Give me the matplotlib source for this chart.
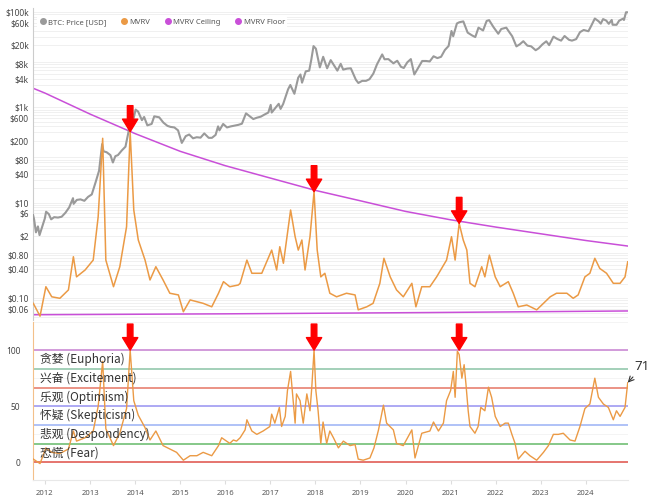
# MVRV curve: BTC price + MVRV (log scale) and MVRV score panel
import pandas as pd
import matplotlib
matplotlib.use('Agg')
from matplotlib import pyplot as plt
from matplotlib.lines import Line2D
from matplotlib.ticker import LogLocator, NullFormatter

plt.rcParams['font.family'] = ['Noto Sans', 'Noto Sans CJK SC', 'DejaVu Sans']

# --- BTC price (USD) ---
price_dates = [
    "2011-09-27", "2011-10-05", "2011-10-20", "2011-11-05", "2011-11-18", "2011-12-10", "2011-12-31",
    "2012-01-10", "2012-02-01", "2012-02-20", "2012-03-15", "2012-04-15", "2012-05-15", "2012-06-15",
    "2012-07-15", "2012-08-15", "2012-08-20", "2012-09-15", "2012-10-15", "2012-11-15", "2012-12-15",
    "2013-01-15", "2013-02-15", "2013-03-15", "2013-04-09", "2013-04-20", "2013-05-15", "2013-06-15",
    "2013-07-05", "2013-07-25", "2013-08-15", "2013-09-15", "2013-10-15", "2013-11-10", "2013-12-01",
    "2013-12-18", "2014-01-05", "2014-01-25", "2014-02-25", "2014-03-15", "2014-04-10", "2014-05-15",
    "2014-06-05", "2014-07-15", "2014-08-18", "2014-09-20", "2014-10-15", "2014-11-15", "2014-12-15",
    "2015-01-14", "2015-02-15", "2015-03-15", "2015-04-15", "2015-05-15", "2015-06-15", "2015-07-15",
    "2015-08-20", "2015-09-15", "2015-10-15", "2015-11-04", "2015-11-15", "2015-12-15", "2016-01-15",
    "2016-02-15", "2016-03-15", "2016-04-15", "2016-05-15", "2016-06-17", "2016-07-15", "2016-08-15",
    "2016-09-15", "2016-10-15", "2016-11-15", "2016-12-15", "2017-01-04", "2017-01-12", "2017-02-15",
    "2017-03-10", "2017-03-25", "2017-04-15", "2017-05-25", "2017-06-12", "2017-07-15", "2017-08-15",
    "2017-09-02", "2017-09-15", "2017-10-15", "2017-11-12", "2017-11-29", "2017-12-17", "2018-01-05",
    "2018-02-06", "2018-03-05", "2018-04-06", "2018-05-05", "2018-06-28", "2018-07-25", "2018-08-14",
    "2018-09-15", "2018-10-15", "2018-11-25", "2018-12-15", "2019-01-15", "2019-02-15", "2019-03-15",
    "2019-04-15", "2019-05-15", "2019-06-26", "2019-07-15", "2019-08-15", "2019-09-25", "2019-10-26",
    "2019-11-25", "2019-12-18", "2020-01-15", "2020-02-13", "2020-03-12", "2020-04-15", "2020-05-15",
    "2020-06-15", "2020-07-15", "2020-08-15", "2020-09-15", "2020-10-15", "2020-11-15", "2020-12-15",
    "2021-01-08", "2021-01-22", "2021-02-21", "2021-03-13", "2021-04-14", "2021-05-19", "2021-06-22",
    "2021-07-20", "2021-08-15", "2021-09-21", "2021-10-20", "2021-11-09", "2021-12-15", "2022-01-22",
    "2022-02-15", "2022-03-28", "2022-04-15", "2022-05-15", "2022-06-18", "2022-07-15", "2022-08-13",
    "2022-09-15", "2022-10-15", "2022-11-21", "2022-12-15", "2023-01-15", "2023-02-15", "2023-03-10",
    "2023-04-14", "2023-05-15", "2023-06-15", "2023-07-13", "2023-08-18", "2023-09-11", "2023-10-15",
    "2023-11-15", "2023-12-15", "2024-01-22", "2024-02-15", "2024-03-14", "2024-04-15", "2024-05-01",
    "2024-05-20", "2024-06-15", "2024-07-05", "2024-07-29", "2024-08-05", "2024-09-06", "2024-09-27",
    "2024-10-29", "2024-11-05", "2024-11-22", "2024-12-05",
]
price_usd = [
    5.5, 4.5, 2.4, 3.2, 2.1, 3.2, 4.7,
    6.5, 5.8, 4.5, 5.0, 4.9, 5.1, 6.2,
    8.0, 12.5, 9.5, 11.5, 11.8, 11.0, 13.3,
    15, 27, 47, 170, 120, 115, 100,
    70, 95, 100, 125, 150, 320, 1000,
    560, 900, 820, 540, 630, 420, 450,
    650, 620, 480, 410, 390, 380, 330,
    180, 250, 270, 225, 237, 232, 285,
    230, 230, 265, 400, 330, 450, 380,
    400, 415, 430, 455, 750, 660, 570,
    610, 640, 710, 780, 1130, 780, 1000,
    1190, 930, 1180, 2400, 2950, 1930, 4200,
    4900, 3300, 5700, 5900, 10000, 19300, 17000,
    6900, 11500, 6600, 9800, 5900, 8200, 6200,
    6500, 6600, 3800, 3250, 3600, 3600, 3900,
    5100, 8000, 12900, 10200, 10300, 8400, 9500,
    7100, 6700, 8800, 10300, 4900, 6900, 9400,
    9400, 9200, 11800, 10800, 11500, 16000, 19400,
    40000, 31000, 57500, 61000, 63500, 37000, 32500,
    29800, 47000, 41000, 65000, 67500, 48000, 35000,
    44000, 47000, 40000, 31000, 19000, 21000, 24400,
    19700, 19100, 15800, 17300, 21000, 24300, 20200,
    30400, 27200, 25100, 31400, 26100, 25100, 27000,
    37800, 42000, 39500, 52000, 73000, 63500, 57000,
    71000, 66000, 56500, 68200, 54000, 53900, 65800,
    72500, 68000, 98900, 98500,
]

# --- MVRV (drawn on the price axis) ---
mvrv_anos = [
    2011.74, 2011.89, 2012.02, 2012.15, 2012.33, 2012.52, 2012.63, 2012.70, 2012.89, 2013.07,
    2013.18, 2013.28, 2013.35, 2013.52, 2013.66, 2013.81, 2013.89, 2013.97, 2014.07, 2014.22,
    2014.33, 2014.46, 2014.62, 2014.77, 2014.96, 2015.07, 2015.22, 2015.51, 2015.70, 2015.85,
    2015.96, 2016.10, 2016.29, 2016.33, 2016.48, 2016.59, 2016.81, 2017.03, 2017.14, 2017.21,
    2017.29, 2017.45, 2017.55, 2017.62, 2017.70, 2017.77, 2017.88, 2017.97, 2018.04, 2018.12,
    2018.21, 2018.32, 2018.47, 2018.69, 2018.88, 2018.95, 2019.14, 2019.28, 2019.43, 2019.52,
    2019.66, 2019.80, 2019.95, 2020.14, 2020.23, 2020.36, 2020.54, 2020.69, 2020.91, 2021.02,
    2021.10, 2021.19, 2021.28, 2021.36, 2021.43, 2021.54, 2021.69, 2021.76, 2021.86, 2021.99,
    2022.10, 2022.28, 2022.39, 2022.50, 2022.69, 2022.91, 2023.06, 2023.21, 2023.35, 2023.58,
    2023.72, 2023.83, 2023.98, 2024.09, 2024.20, 2024.31, 2024.46, 2024.61, 2024.76, 2024.87,
    2024.93,
]
mvrv = [
    0.078, 0.042, 0.174, 0.107, 0.0995, 0.149, 0.74, 0.28, 0.39, 0.63,
    5.1, 225, 0.63, 0.174, 0.457, 3.15, 310, 7.06, 1.66, 0.63,
    0.241, 0.457, 0.241, 0.127, 0.117, 0.052, 0.092, 0.078, 0.066, 0.127,
    0.222, 0.174, 0.189, 0.205, 0.63, 0.333, 0.333, 1.02, 0.39, 1.20,
    0.54, 7.06, 1.95, 1.02, 1.66, 0.39, 1.95, 17.1, 1.02, 0.28,
    0.333, 0.127, 0.107, 0.127, 0.117, 0.057, 0.066, 0.078, 0.205, 0.686,
    0.28, 0.149, 0.107, 0.205, 0.066, 0.174, 0.174, 0.28, 0.63, 1.95,
    0.63, 3.7, 1.66, 1.02, 0.205, 0.174, 0.457, 0.28, 0.80, 0.28,
    0.174, 0.222, 0.127, 0.066, 0.072, 0.057, 0.078, 0.107, 0.127, 0.127,
    0.0995, 0.117, 0.28, 0.333, 0.686, 0.42, 0.333, 0.205, 0.205, 0.28,
    0.58,
]

# --- MVRV ceiling / floor ---
teto_anos = [2011.74, 2012.0, 2013.0, 2014.0, 2015.0, 2016.0, 2017.0, 2018.0,
             2019.0, 2020.0, 2021.0, 2022.0, 2023.0, 2024.0, 2024.93]
teto = [2512, 1995, 724, 282, 120, 60, 33, 18.2, 11, 6.6, 4.4, 3.1, 2.24, 1.62, 1.24]
piso_anos = [2011.74, 2016.0, 2020.5, 2024.93]
piso = [0.045, 0.047, 0.050, 0.054]

# --- MVRV score (0-100) ---
score_anos = [
    2011.74, 2011.89, 2012.02, 2012.15, 2012.33, 2012.52, 2012.63, 2012.70, 2012.89, 2013.07,
    2013.18, 2013.28, 2013.35, 2013.52, 2013.66, 2013.81, 2013.89, 2013.97, 2014.07, 2014.22,
    2014.33, 2014.46, 2014.62, 2014.77, 2014.92, 2015.07, 2015.22, 2015.37, 2015.51, 2015.70,
    2015.85, 2015.92, 2016.03, 2016.10, 2016.18, 2016.25, 2016.33, 2016.44, 2016.48, 2016.59,
    2016.70, 2016.84, 2016.99, 2017.03, 2017.10, 2017.20, 2017.25, 2017.33, 2017.38, 2017.45,
    2017.55, 2017.58, 2017.66, 2017.70, 2017.73, 2017.81, 2017.88, 2017.92, 2017.97, 2018.01,
    2018.06, 2018.12, 2018.17, 2018.25, 2018.32, 2018.40, 2018.51, 2018.62, 2018.77, 2018.88,
    2018.95, 2019.06, 2019.21, 2019.30, 2019.40, 2019.51, 2019.58, 2019.73, 2019.80, 2019.95,
    2020.14, 2020.21, 2020.36, 2020.54, 2020.62, 2020.73, 2020.84, 2020.91, 2021.00, 2021.06,
    2021.10, 2021.15, 2021.19, 2021.25, 2021.30, 2021.34, 2021.39, 2021.43, 2021.54, 2021.61,
    2021.67, 2021.76, 2021.84, 2021.91, 2021.99, 2022.10, 2022.21, 2022.28, 2022.36, 2022.43,
    2022.50, 2022.65, 2022.76, 2022.91, 2023.06, 2023.17, 2023.28, 2023.39, 2023.50, 2023.65,
    2023.76, 2023.87, 2023.98, 2024.09, 2024.20, 2024.28, 2024.39, 2024.50, 2024.61, 2024.68,
    2024.76, 2024.87, 2024.93,
]
score = [
    3, -1, 13, 9, 8, 12, 28, 19, 22, 28,
    50, 90, 30, 15, 26, 48, 100, 55, 42, 31,
    20, 28, 15, 12, 9, 2, 6, 6, 9, 6,
    15, 22, 19, 17, 20, 19, 22, 29, 38, 28,
    25, 28, 32, 43, 35, 49, 32, 41, 64, 81,
    35, 61, 55, 43, 35, 61, 46, 67, 100, 64,
    46, 17, 36, 17, 28, 22, 13, 19, 15, 16,
    3, 2, 4, 13, 29, 51, 35, 29, 17, 15,
    29, 4, 26, 28, 36, 28, 35, 55, 64, 81,
    58, 99, 96, 75, 87, 70, 46, 32, 26, 32,
    49, 46, 67, 58, 41, 32, 35, 35, 25, 17,
    3, 10, 6, 2, 9, 15, 25, 25, 26, 20,
    19, 32, 48, 52, 75, 58, 52, 49, 38, 46,
    41, 49, 71,
]

niveis = [100, 83.33, 66.67, 50, 33.33, 16.67, 0]
cores_niveis = ['#cf93d8', '#9ccdb3', '#e98a7c', '#a7a3f3', '#a9bdf7', '#7cc47f', '#e46a63']
zonas = ['贪婪 (Euphoria)', '兴奋 (Excitement)', '乐观 (Optimism)',
         '怀疑 (Skepticism)', '悲观 (Despondency)', '恐慌 (Fear)']
picos = [2013.89, 2017.97, 2021.19]

precos_y = [1e5, 6e4, 2e4, 8e3, 4e3, 1e3, 600, 200, 80, 40, 10, 6, 2, 0.8, 0.4, 0.1, 0.06]
precos_lbl = ['$100k', '$60k', '$20k', '$8k', '$4k', '$1k', '$600', '$200', '$80', '$40',
              '$10', '$6', '$2', '$0.80', '$0.40', '$0.10', '$0.06']


def ano(d):
    t = pd.Timestamp(d)
    return t.year + (t.dayofyear - 1) / 365.25


W, H = 651, 498
fig = plt.figure(figsize=(W / 100, H / 100), dpi=100)
ax1 = fig.add_axes([33 / W, 1 - 320 / H, 595 / W, 312 / H])
ax2 = fig.add_axes([33 / W, 1 - 480 / H, 595 / W, 158 / H])
x0, x1 = 2011.734, 2024.936

# painel de cima
ax1.set_yscale('log')
ax1.plot([ano(d) for d in price_dates], price_usd, color='#9a9a9a', lw=1.5, zorder=3)
ax1.plot(mvrv_anos, mvrv, color='#eb9a45', lw=1.1, zorder=3)
ax1.plot(teto_anos, teto, color='#c94fd8', lw=1.1, zorder=2)
ax1.plot(piso_anos, piso, color='#c94fd8', lw=1.1, zorder=2)
ax1.set_xlim(x0, x1)
ax1.set_ylim(0.0349, 121300)
ax1.set_yticks(precos_y, precos_lbl)
ax1.yaxis.set_minor_locator(LogLocator(base=10, subs=(2, 3, 4, 5, 6, 7, 8, 9)))
ax1.yaxis.set_minor_formatter(NullFormatter())
ax1.grid(axis='y', which='both', color='#eeeeee', lw=0.6, zorder=0)
ax1.tick_params(axis='y', which='both', length=0, labelsize=6, labelcolor='#444444', pad=3)
ax1.tick_params(axis='x', which='both', length=0, labelbottom=False)
for s in ['top', 'right', 'bottom']:
    ax1.spines[s].set_visible(False)
ax1.spines['left'].set_color('#cccccc')

handles = [Line2D([], [], marker='o', ls='none', ms=4, color=c)
           for c in ['#9a9a9a', '#eb9a45', '#c94fd8', '#c94fd8']]
leg = ax1.legend(handles, ['BTC: Price [USD]', 'MVRV', 'MVRV Ceiling', 'MVRV Floor'],
                 loc='upper left', bbox_to_anchor=(0.0, 0.985), ncol=4, fontsize=5.5,
                 frameon=True, facecolor='white', edgecolor='none', framealpha=1,
                 handletextpad=0.2, columnspacing=1.8, borderpad=0.3, handlelength=1)
for t in leg.get_texts():
    t.set_color('#555555')

# setas vermelhas
for p in picos:
    i = mvrv_anos.index(p)
    ax1.annotate('', xy=(p, mvrv[i]), xytext=(0, 26), textcoords='offset pixels',
                 arrowprops=dict(facecolor='red', edgecolor='red', width=4, headwidth=11,
                                 headlength=9, shrink=0), zorder=5)

# painel de baixo
ax2.plot(score_anos, score, color='#eb9a45', lw=1.0, zorder=3)
for nv, c in zip(niveis, cores_niveis):
    ax2.axhline(nv, color=c, lw=1.3, zorder=2)
for k, z in enumerate(zonas):
    meio = (niveis[k] + niveis[k + 1]) / 2
    ax2.text(0.012, meio, z, transform=ax2.get_yaxis_transform(), fontsize=8.5,
             va='center', ha='left', color='#333333',
             family=['Noto Sans CJK SC', 'DejaVu Sans'], zorder=4)
for p in picos:
    ax2.annotate('', xy=(p, 100), xytext=(0, 26), textcoords='offset pixels',
                 arrowprops=dict(facecolor='red', edgecolor='red', width=4, headwidth=11,
                                 headlength=9, shrink=0), zorder=5, annotation_clip=False)
ax2.annotate('71', xy=(score_anos[-1], score[-1]), xytext=(7, 16), textcoords='offset pixels',
             fontsize=9.5, color='#333333', va='center', ha='left',
             arrowprops=dict(arrowstyle='->', color='#333333', lw=0.8, shrinkA=1, shrinkB=0),
             annotation_clip=False)

ax2.set_xlim(x0, x1)
ax2.set_ylim(-15.6, 121.2)
ax2.set_yticks([0, 50, 100])
ax2.set_xticks(range(2012, 2025))
ax2.grid(axis='y', color='#f2f2f2', lw=0.6, zorder=0)
ax2.set_yticks([25, 75, 125], minor=True)
ax2.grid(axis='y', which='minor', color='#f2f2f2', lw=0.6, zorder=0)
ax2.tick_params(axis='y', which='both', length=0, labelsize=6, labelcolor='#444444', pad=9)
ax2.tick_params(axis='x', length=3, color='#dddddd', labelsize=5.5, labelcolor='#555555', pad=4)
for s in ['top', 'right']:
    ax2.spines[s].set_visible(False)
ax2.spines['bottom'].set_color('#e8e8e8')
ax2.spines['left'].set_color('#f3c08a')

fig.savefig('out.png', dpi=100)
